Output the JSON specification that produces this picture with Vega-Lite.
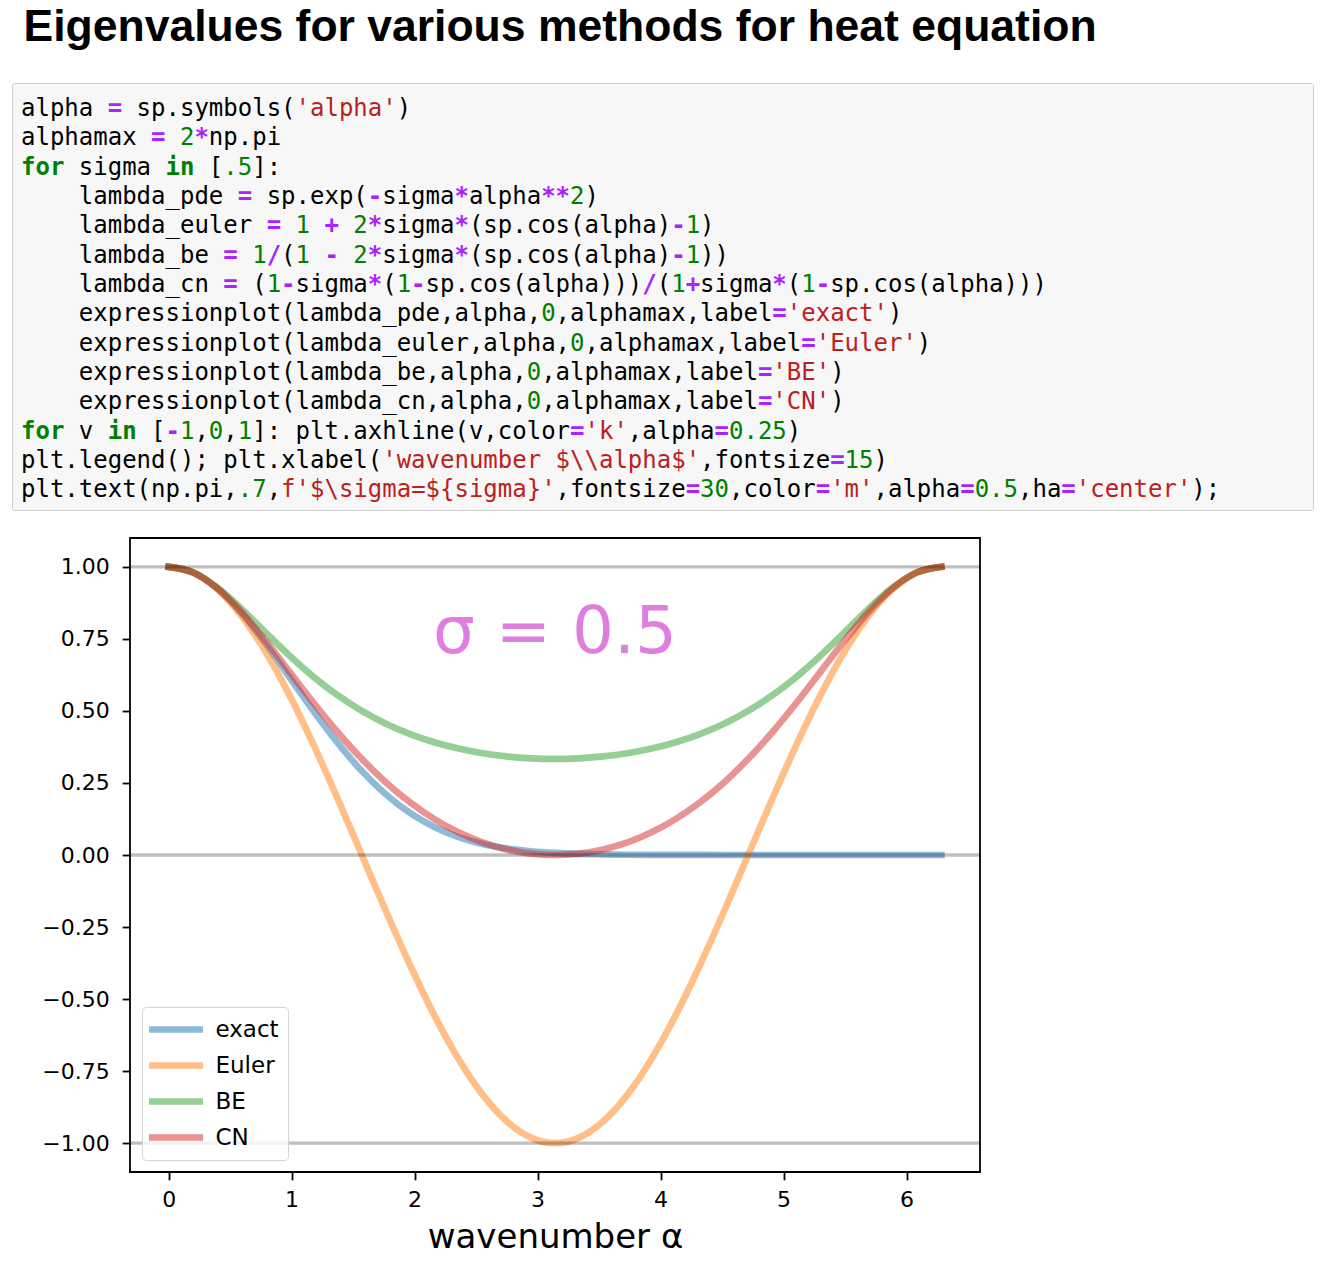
{
  "$schema": "https://vega.github.io/schema/vega-lite/v6.json",
  "background": "white",
  "padding": {"left": 11, "top": 5, "right": 8, "bottom": 10},
  "title": {"text": "Eigenvalues for various methods for heat equation", "anchor": "start", "font": "Liberation Sans", "fontSize": 44.5, "fontWeight": "bold", "color": "#000000", "offset": 32, "dx": 12},
  "spacing": 26,
  "resolve": {"scale": {"x": "independent", "y": "independent", "color": "independent"}, "legend": {"color": "independent"}},
  "config": {
    "axis": {"domain": false, "grid": false, "labelFont": "DejaVu Sans", "labelFontSize": 22, "labelColor": "#000000", "tickColor": "#000000", "tickWidth": 1.8, "tickSize": 7.8, "titleFont": "DejaVu Sans", "titleFontWeight": "normal", "titleColor": "#000000", "labelFlush": false, "labelOverlap": false},
    "axisX": {"labelPadding": 10, "titleFontSize": 34, "titlePadding": 10},
    "axisY": {"labelPadding": 13, "minExtent": 116, "maxExtent": 116}
  },
  "datasets": {
    "code": [
      {"line":1,"col":0,"t":"alpha","k":"name"},{"line":1,"col":6,"t":"=","k":"op"},{"line":1,"col":8,"t":"sp.symbols(","k":"name"},{"line":1,"col":19,"t":"'alpha'","k":"str"},{"line":1,"col":26,"t":")","k":"name"},
      {"line":2,"col":0,"t":"alphamax","k":"name"},{"line":2,"col":9,"t":"=","k":"op"},{"line":2,"col":11,"t":"2","k":"num"},{"line":2,"col":12,"t":"*","k":"op"},{"line":2,"col":13,"t":"np.pi","k":"name"},
      {"line":3,"col":0,"t":"for","k":"kw"},{"line":3,"col":4,"t":"sigma","k":"name"},{"line":3,"col":10,"t":"in","k":"kw"},{"line":3,"col":13,"t":"[","k":"name"},{"line":3,"col":14,"t":".5","k":"num"},{"line":3,"col":16,"t":"]:","k":"name"},
      {"line":4,"col":4,"t":"lambda_pde","k":"name"},{"line":4,"col":15,"t":"=","k":"op"},{"line":4,"col":17,"t":"sp.exp(","k":"name"},{"line":4,"col":24,"t":"-","k":"op"},{"line":4,"col":25,"t":"sigma","k":"name"},{"line":4,"col":30,"t":"*","k":"op"},{"line":4,"col":31,"t":"alpha","k":"name"},{"line":4,"col":36,"t":"**","k":"op"},{"line":4,"col":38,"t":"2","k":"num"},{"line":4,"col":39,"t":")","k":"name"},
      {"line":5,"col":4,"t":"lambda_euler","k":"name"},{"line":5,"col":17,"t":"=","k":"op"},{"line":5,"col":19,"t":"1","k":"num"},{"line":5,"col":21,"t":"+","k":"op"},{"line":5,"col":23,"t":"2","k":"num"},{"line":5,"col":24,"t":"*","k":"op"},{"line":5,"col":25,"t":"sigma","k":"name"},{"line":5,"col":30,"t":"*","k":"op"},{"line":5,"col":31,"t":"(sp.cos(alpha)","k":"name"},{"line":5,"col":45,"t":"-","k":"op"},{"line":5,"col":46,"t":"1","k":"num"},{"line":5,"col":47,"t":")","k":"name"},
      {"line":6,"col":4,"t":"lambda_be","k":"name"},{"line":6,"col":14,"t":"=","k":"op"},{"line":6,"col":16,"t":"1","k":"num"},{"line":6,"col":17,"t":"/","k":"op"},{"line":6,"col":18,"t":"(","k":"name"},{"line":6,"col":19,"t":"1","k":"num"},{"line":6,"col":21,"t":"-","k":"op"},{"line":6,"col":23,"t":"2","k":"num"},{"line":6,"col":24,"t":"*","k":"op"},{"line":6,"col":25,"t":"sigma","k":"name"},{"line":6,"col":30,"t":"*","k":"op"},{"line":6,"col":31,"t":"(sp.cos(alpha)","k":"name"},{"line":6,"col":45,"t":"-","k":"op"},{"line":6,"col":46,"t":"1","k":"num"},{"line":6,"col":47,"t":"))","k":"name"},
      {"line":7,"col":4,"t":"lambda_cn","k":"name"},{"line":7,"col":14,"t":"=","k":"op"},{"line":7,"col":16,"t":"(","k":"name"},{"line":7,"col":17,"t":"1","k":"num"},{"line":7,"col":18,"t":"-","k":"op"},{"line":7,"col":19,"t":"sigma","k":"name"},{"line":7,"col":24,"t":"*","k":"op"},{"line":7,"col":25,"t":"(","k":"name"},{"line":7,"col":26,"t":"1","k":"num"},{"line":7,"col":27,"t":"-","k":"op"},{"line":7,"col":28,"t":"sp.cos(alpha)))","k":"name"},{"line":7,"col":43,"t":"/","k":"op"},{"line":7,"col":44,"t":"(","k":"name"},{"line":7,"col":45,"t":"1","k":"num"},{"line":7,"col":46,"t":"+","k":"op"},{"line":7,"col":47,"t":"sigma","k":"name"},{"line":7,"col":52,"t":"*","k":"op"},{"line":7,"col":53,"t":"(","k":"name"},{"line":7,"col":54,"t":"1","k":"num"},{"line":7,"col":55,"t":"-","k":"op"},{"line":7,"col":56,"t":"sp.cos(alpha)))","k":"name"},
      {"line":8,"col":4,"t":"expressionplot(lambda_pde,alpha,","k":"name"},{"line":8,"col":36,"t":"0","k":"num"},{"line":8,"col":37,"t":",alphamax,label","k":"name"},{"line":8,"col":52,"t":"=","k":"op"},{"line":8,"col":53,"t":"'exact'","k":"str"},{"line":8,"col":60,"t":")","k":"name"},
      {"line":9,"col":4,"t":"expressionplot(lambda_euler,alpha,","k":"name"},{"line":9,"col":38,"t":"0","k":"num"},{"line":9,"col":39,"t":",alphamax,label","k":"name"},{"line":9,"col":54,"t":"=","k":"op"},{"line":9,"col":55,"t":"'Euler'","k":"str"},{"line":9,"col":62,"t":")","k":"name"},
      {"line":10,"col":4,"t":"expressionplot(lambda_be,alpha,","k":"name"},{"line":10,"col":35,"t":"0","k":"num"},{"line":10,"col":36,"t":",alphamax,label","k":"name"},{"line":10,"col":51,"t":"=","k":"op"},{"line":10,"col":52,"t":"'BE'","k":"str"},{"line":10,"col":56,"t":")","k":"name"},
      {"line":11,"col":4,"t":"expressionplot(lambda_cn,alpha,","k":"name"},{"line":11,"col":35,"t":"0","k":"num"},{"line":11,"col":36,"t":",alphamax,label","k":"name"},{"line":11,"col":51,"t":"=","k":"op"},{"line":11,"col":52,"t":"'CN'","k":"str"},{"line":11,"col":56,"t":")","k":"name"},
      {"line":12,"col":0,"t":"for","k":"kw"},{"line":12,"col":4,"t":"v","k":"name"},{"line":12,"col":6,"t":"in","k":"kw"},{"line":12,"col":9,"t":"[","k":"name"},{"line":12,"col":10,"t":"-","k":"op"},{"line":12,"col":11,"t":"1","k":"num"},{"line":12,"col":12,"t":",","k":"name"},{"line":12,"col":13,"t":"0","k":"num"},{"line":12,"col":14,"t":",","k":"name"},{"line":12,"col":15,"t":"1","k":"num"},{"line":12,"col":16,"t":"]: plt.axhline(v,color","k":"name"},{"line":12,"col":38,"t":"=","k":"op"},{"line":12,"col":39,"t":"'k'","k":"str"},{"line":12,"col":42,"t":",alpha","k":"name"},{"line":12,"col":48,"t":"=","k":"op"},{"line":12,"col":49,"t":"0.25","k":"num"},{"line":12,"col":53,"t":")","k":"name"},
      {"line":13,"col":0,"t":"plt.legend(); plt.xlabel(","k":"name"},{"line":13,"col":25,"t":"'wavenumber $\\\\alpha$'","k":"str"},{"line":13,"col":47,"t":",fontsize","k":"name"},{"line":13,"col":56,"t":"=","k":"op"},{"line":13,"col":57,"t":"15","k":"num"},{"line":13,"col":59,"t":")","k":"name"},
      {"line":14,"col":0,"t":"plt.text(np.pi,","k":"name"},{"line":14,"col":15,"t":".7","k":"num"},{"line":14,"col":17,"t":",","k":"name"},{"line":14,"col":18,"t":"f'$\\sigma=${sigma}'","k":"str"},{"line":14,"col":37,"t":",fontsize","k":"name"},{"line":14,"col":46,"t":"=","k":"op"},{"line":14,"col":47,"t":"30","k":"num"},{"line":14,"col":49,"t":",color","k":"name"},{"line":14,"col":55,"t":"=","k":"op"},{"line":14,"col":56,"t":"'m'","k":"str"},{"line":14,"col":59,"t":",alpha","k":"name"},{"line":14,"col":65,"t":"=","k":"op"},{"line":14,"col":66,"t":"0.5","k":"num"},{"line":14,"col":69,"t":",ha","k":"name"},{"line":14,"col":72,"t":"=","k":"op"},{"line":14,"col":73,"t":"'center'","k":"str"},{"line":14,"col":81,"t":");","k":"name"}
    ],
    "curves": [
      {"alpha":0,"method":"exact","lambda":1},{"alpha":0.19635,"method":"exact","lambda":0.98091},{"alpha":0.3927,"method":"exact","lambda":0.92579},{"alpha":0.58905,"method":"exact","lambda":0.84073},{"alpha":0.7854,"method":"exact","lambda":0.7346},{"alpha":0.98175,"method":"exact","lambda":0.6176},{"alpha":1.1781,"method":"exact","lambda":0.49959},{"alpha":1.37445,"method":"exact","lambda":0.38885},{"alpha":1.5708,"method":"exact","lambda":0.29121},{"alpha":1.76715,"method":"exact","lambda":0.20984},{"alpha":1.9635,"method":"exact","lambda":0.14549},{"alpha":2.15984,"method":"exact","lambda":0.09706},{"alpha":2.35619,"method":"exact","lambda":0.0623},{"alpha":2.55254,"method":"exact","lambda":0.03848},{"alpha":2.74889,"method":"exact","lambda":0.02286},{"alpha":2.94524,"method":"exact","lambda":0.01307},{"alpha":3.14159,"method":"exact","lambda":0.00719},{"alpha":3.33794,"method":"exact","lambda":0.00381},{"alpha":3.53429,"method":"exact","lambda":0.00194},{"alpha":3.73064,"method":"exact","lambda":0.00095},{"alpha":3.92699,"method":"exact","lambda":0.00045},{"alpha":4.12334,"method":"exact","lambda":0.0002},{"alpha":4.31969,"method":"exact","lambda":0.00009},{"alpha":4.51604,"method":"exact","lambda":0.00004},{"alpha":4.71239,"method":"exact","lambda":0.00001},{"alpha":4.90874,"method":"exact","lambda":0},{"alpha":5.10509,"method":"exact","lambda":0},{"alpha":5.30144,"method":"exact","lambda":0},{"alpha":5.49779,"method":"exact","lambda":0},{"alpha":5.69414,"method":"exact","lambda":0},{"alpha":5.89049,"method":"exact","lambda":0},{"alpha":6.08684,"method":"exact","lambda":0},{"alpha":6.28319,"method":"exact","lambda":0},
      {"alpha":0,"method":"Euler","lambda":1},{"alpha":0.19635,"method":"Euler","lambda":0.98079},{"alpha":0.3927,"method":"Euler","lambda":0.92388},{"alpha":0.58905,"method":"Euler","lambda":0.83147},{"alpha":0.7854,"method":"Euler","lambda":0.70711},{"alpha":0.98175,"method":"Euler","lambda":0.55557},{"alpha":1.1781,"method":"Euler","lambda":0.38268},{"alpha":1.37445,"method":"Euler","lambda":0.19509},{"alpha":1.5708,"method":"Euler","lambda":0},{"alpha":1.76715,"method":"Euler","lambda":-0.19509},{"alpha":1.9635,"method":"Euler","lambda":-0.38268},{"alpha":2.15984,"method":"Euler","lambda":-0.55557},{"alpha":2.35619,"method":"Euler","lambda":-0.70711},{"alpha":2.55254,"method":"Euler","lambda":-0.83147},{"alpha":2.74889,"method":"Euler","lambda":-0.92388},{"alpha":2.94524,"method":"Euler","lambda":-0.98079},{"alpha":3.14159,"method":"Euler","lambda":-1},{"alpha":3.33794,"method":"Euler","lambda":-0.98079},{"alpha":3.53429,"method":"Euler","lambda":-0.92388},{"alpha":3.73064,"method":"Euler","lambda":-0.83147},{"alpha":3.92699,"method":"Euler","lambda":-0.70711},{"alpha":4.12334,"method":"Euler","lambda":-0.55557},{"alpha":4.31969,"method":"Euler","lambda":-0.38268},{"alpha":4.51604,"method":"Euler","lambda":-0.19509},{"alpha":4.71239,"method":"Euler","lambda":0},{"alpha":4.90874,"method":"Euler","lambda":0.19509},{"alpha":5.10509,"method":"Euler","lambda":0.38268},{"alpha":5.30144,"method":"Euler","lambda":0.55557},{"alpha":5.49779,"method":"Euler","lambda":0.70711},{"alpha":5.69414,"method":"Euler","lambda":0.83147},{"alpha":5.89049,"method":"Euler","lambda":0.92388},{"alpha":6.08684,"method":"Euler","lambda":0.98079},{"alpha":6.28319,"method":"Euler","lambda":1},
      {"alpha":0,"method":"BE","lambda":1},{"alpha":0.19635,"method":"BE","lambda":0.98115},{"alpha":0.3927,"method":"BE","lambda":0.92927},{"alpha":0.58905,"method":"BE","lambda":0.85578},{"alpha":0.7854,"method":"BE","lambda":0.77346},{"alpha":0.98175,"method":"BE","lambda":0.69231},{"alpha":1.1781,"method":"BE","lambda":0.61831},{"alpha":1.37445,"method":"BE","lambda":0.55404},{"alpha":1.5708,"method":"BE","lambda":0.5},{"alpha":1.76715,"method":"BE","lambda":0.45556},{"alpha":1.9635,"method":"BE","lambda":0.41969},{"alpha":2.15984,"method":"BE","lambda":0.3913},{"alpha":2.35619,"method":"BE","lambda":0.3694},{"alpha":2.55254,"method":"BE","lambda":0.35317},{"alpha":2.74889,"method":"BE","lambda":0.34201},{"alpha":2.94524,"method":"BE","lambda":0.33548},{"alpha":3.14159,"method":"BE","lambda":0.33333},{"alpha":3.33794,"method":"BE","lambda":0.33548},{"alpha":3.53429,"method":"BE","lambda":0.34201},{"alpha":3.73064,"method":"BE","lambda":0.35317},{"alpha":3.92699,"method":"BE","lambda":0.3694},{"alpha":4.12334,"method":"BE","lambda":0.3913},{"alpha":4.31969,"method":"BE","lambda":0.41969},{"alpha":4.51604,"method":"BE","lambda":0.45556},{"alpha":4.71239,"method":"BE","lambda":0.5},{"alpha":4.90874,"method":"BE","lambda":0.55404},{"alpha":5.10509,"method":"BE","lambda":0.61831},{"alpha":5.30144,"method":"BE","lambda":0.69231},{"alpha":5.49779,"method":"BE","lambda":0.77346},{"alpha":5.69414,"method":"BE","lambda":0.85578},{"alpha":5.89049,"method":"BE","lambda":0.92927},{"alpha":6.08684,"method":"BE","lambda":0.98115},{"alpha":6.28319,"method":"BE","lambda":1},
      {"alpha":0,"method":"CN","lambda":1},{"alpha":0.19635,"method":"CN","lambda":0.98097},{"alpha":0.3927,"method":"CN","lambda":0.92667},{"alpha":0.58905,"method":"CN","lambda":0.84457},{"alpha":0.7854,"method":"CN","lambda":0.74452},{"alpha":0.98175,"method":"CN","lambda":0.63637},{"alpha":1.1781,"method":"CN","lambda":0.52828},{"alpha":1.37445,"method":"CN","lambda":0.42607},{"alpha":1.5708,"method":"CN","lambda":0.33333},{"alpha":1.76715,"method":"CN","lambda":0.25192},{"alpha":1.9635,"method":"CN","lambda":0.18249},{"alpha":2.15984,"method":"CN","lambda":0.125},{"alpha":2.35619,"method":"CN","lambda":0.07901},{"alpha":2.55254,"method":"CN","lambda":0.04399},{"alpha":2.74889,"method":"CN","lambda":0.0194},{"alpha":2.94524,"method":"CN","lambda":0.00483},{"alpha":3.14159,"method":"CN","lambda":0},{"alpha":3.33794,"method":"CN","lambda":0.00483},{"alpha":3.53429,"method":"CN","lambda":0.0194},{"alpha":3.73064,"method":"CN","lambda":0.04399},{"alpha":3.92699,"method":"CN","lambda":0.07901},{"alpha":4.12334,"method":"CN","lambda":0.125},{"alpha":4.31969,"method":"CN","lambda":0.18249},{"alpha":4.51604,"method":"CN","lambda":0.25192},{"alpha":4.71239,"method":"CN","lambda":0.33333},{"alpha":4.90874,"method":"CN","lambda":0.42607},{"alpha":5.10509,"method":"CN","lambda":0.52828},{"alpha":5.30144,"method":"CN","lambda":0.63637},{"alpha":5.49779,"method":"CN","lambda":0.74452},{"alpha":5.69414,"method":"CN","lambda":0.84457},{"alpha":5.89049,"method":"CN","lambda":0.92667},{"alpha":6.08684,"method":"CN","lambda":0.98097},{"alpha":6.28319,"method":"CN","lambda":1}
    ],
    "hlines": [{"lambda": -1}, {"lambda": 0}, {"lambda": 1}],
    "note": [{"alpha": 3.14159, "lambda": 0.7, "label": "σ = 0.5"}]
  },
  "vconcat": [
    {
      "width": 1301,
      "height": 427,
      "view": {"fill": "#f7f7f7", "stroke": "#cfcfcf", "strokeWidth": 1, "cornerRadius": 2},
      "data": {"name": "code"},
      "encoding": {
        "x": {"field": "col", "type": "quantitative", "scale": {"domain": [-0.6229, 89.418], "nice": false, "zero": false}, "axis": null},
        "y": {"field": "line", "type": "quantitative", "scale": {"domain": [-0.1251, 14.433], "nice": false, "zero": false, "reverse": true}, "axis": null},
        "text": {"field": "t", "type": "nominal"},
        "color": {"field": "k", "type": "nominal", "scale": {"domain": ["name", "op", "num", "str", "kw"], "range": ["#000000", "#AA22FF", "#008000", "#BA2121", "#008000"]}, "legend": null}
      },
      "layer": [
        {"transform": [{"filter": "datum.k !== 'op' && datum.k !== 'kw'"}], "mark": {"type": "text", "align": "left", "baseline": "alphabetic", "font": "DejaVu Sans Mono", "fontSize": 24}},
        {"transform": [{"filter": "datum.k === 'op' || datum.k === 'kw'"}], "mark": {"type": "text", "align": "left", "baseline": "alphabetic", "font": "DejaVu Sans Mono", "fontSize": 24, "fontWeight": "bold"}}
      ]
    },
    {
      "spacing": 0,
      "resolve": {"scale": {"x": "independent", "y": "independent", "color": "independent"}, "legend": {"color": "independent"}},
      "hconcat": [
        {
          "width": 1,
          "height": 1,
          "view": {"stroke": null, "fill": null},
          "data": {"values": []},
          "mark": {"type": "point", "opacity": 0}
        },
        {
          "width": 850,
          "height": 634,
          "view": {"fill": "white", "stroke": "#000000", "strokeWidth": 1.8},
          "layer": [
            {
              "data": {"name": "curves"},
              "mark": {"type": "line", "interpolate": "monotone", "strokeWidth": 6.7, "opacity": 0.5, "strokeCap": "square", "strokeJoin": "round"},
              "encoding": {
                "x": {"field": "alpha", "type": "quantitative", "title": "wavenumber α", "scale": {"domain": [-0.31416, 6.59735], "nice": false, "zero": false}, "axis": {"values": [0, 1, 2, 3, 4, 5, 6], "format": "d"}},
                "y": {"field": "lambda", "type": "quantitative", "title": null, "scale": {"domain": [-1.1, 1.1], "nice": false, "zero": false}, "axis": {"values": [-1, -0.75, -0.5, -0.25, 0, 0.25, 0.5, 0.75, 1], "format": ".2f"}},
                "color": {"field": "method", "type": "nominal", "scale": {"domain": ["exact", "Euler", "BE", "CN"], "range": ["#1f77b4", "#ff7f0e", "#2ca02c", "#d62728"]},
                  "legend": {"title": null, "orient": "bottom-left", "offset": 12, "padding": 9, "fillColor": "rgba(255,255,255,0.8)", "strokeColor": "#d5d5d5", "cornerRadius": 4, "labelFont": "DejaVu Sans", "labelFontSize": 23, "labelColor": "#000000", "symbolType": "M-2.7,0H2.7", "symbolSize": 400, "symbolStrokeWidth": 6.7, "symbolOpacity": 0.5, "symbolOffset": 11.5, "labelOffset": 26, "rowPadding": 9}}
              }
            },
            {
              "data": {"name": "hlines"},
              "mark": {"type": "rule", "color": "#000000", "opacity": 0.25, "strokeWidth": 3.3},
              "encoding": {
                "y": {"field": "lambda", "type": "quantitative", "title": null, "scale": {"domain": [-1.1, 1.1], "nice": false, "zero": false}}
              }
            },
            {
              "data": {"name": "note"},
              "mark": {"type": "text", "align": "center", "baseline": "alphabetic", "font": "DejaVu Sans", "fontSize": 66, "color": "#bf00bf", "opacity": 0.5},
              "encoding": {
                "x": {"field": "alpha", "type": "quantitative", "title": "wavenumber α", "scale": {"domain": [-0.31416, 6.59735], "nice": false, "zero": false}},
                "y": {"field": "lambda", "type": "quantitative", "title": null, "scale": {"domain": [-1.1, 1.1], "nice": false, "zero": false}},
                "text": {"field": "label", "type": "nominal"}
              }
            }
          ]
        }
      ]
    }
  ]
}
